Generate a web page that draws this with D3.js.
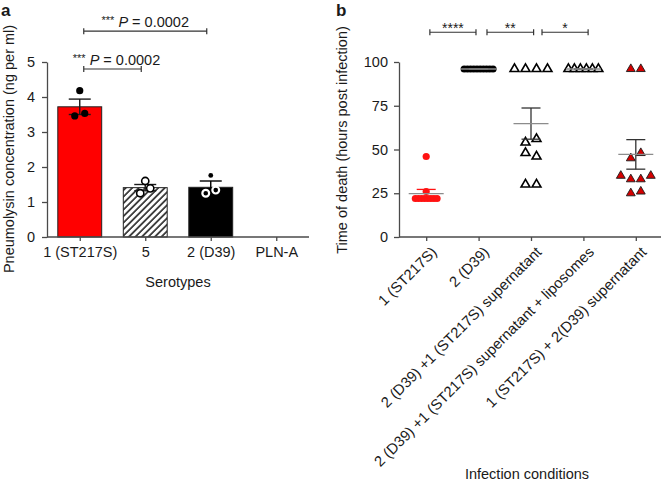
<!DOCTYPE html>
<html><head><meta charset="utf-8">
<script src="https://cdn.jsdelivr.net/npm/d3@7"></script>
<style>
body{margin:0;background:#fff}
svg{display:block}
text{font-family:"Liberation Sans",Arial,Helvetica,sans-serif;fill:#1a1a1a}
</style>
</head><body>
<svg id="chart" width="661" height="482"></svg>
<script>
// ---------- Panel a data ----------
const serotypes = ["1 (ST217S)", "5", "2 (D39)", "PLN-A"];
const plyMean = [3.72, 1.41, 1.42, 0];
const plySem = [0.22, 0.09, 0.18, 0];
const plyPoints = [[4.18, 3.46, 3.53], [1.60, 1.25, 1.39], [1.76, 1.25, 1.34], []];
const plyTicks = [0, 1, 2, 3, 4, 5];
const plySigFrom = [0, 0];
const plySigTo = [2, 1];
const plySigLevel = [5.88, 4.80];
const plySigStars = ["***", "***"];
const plySigText = ["P = 0.0002", "P = 0.0002"];

// ---------- Panel b data ----------
const conditions = [
  "1 (ST217S)",
  "2 (D39)",
  "2 (D39) +1 (ST217S) supernatant",
  "2 (D39) +1 (ST217S) supernatant + liposomes",
  "1 (ST217S) + 2(D39)  supernatant"
];
const deathTimes = [
  [22, 22, 22, 22, 22, 22, 22, 22, 26, 46],
  [96, 96, 96, 96, 96, 96, 96, 96, 96, 96],
  [96, 96, 96, 96, 54, 56, 48, 46, 30, 30],
  [96, 96, 96, 96, 96, 96],
  [96, 96, 45, 48, 35, 33, 33, 35, 25, 26]
];
const deathTicks = [0, 25, 50, 75, 100];
const deathSigFrom = [0.07, 1.16, 2.21];
const deathSigTo = [0.95, 2.05, 3.09];
const deathSigLevel = [117, 117, 117];
const deathSigStars = ["****", "**", "*"];

// ---------- helpers ----------
const svg = d3.select("#chart");
const AX = "#4a4a4a";

function spread(values, thresh, spacing) {
  const idx = values.map((v, i) => i).sort((a, b) => values[a] - values[b]);
  const bins = [];
  idx.forEach(i => {
    const last = bins[bins.length - 1];
    if (last && Math.abs(values[i] - values[last[0]]) <= thresh) last.push(i);
    else bins.push([i]);
  });
  const dx = new Array(values.length).fill(0);
  bins.forEach(b => {
    b.sort((a, c) => a - c);
    b.forEach((i, k) => { dx[i] = (k - (b.length - 1) / 2) * spacing; });
  });
  return values.map((v, i) => ({v, dx: dx[i]}));
}

function styleAxis(g) {
  g.selectAll(".domain").attr("stroke", AX).attr("stroke-width", 1.3);
  g.selectAll(".tick line").attr("stroke", AX).attr("stroke-width", 1.3);
  g.selectAll(".tick text").attr("fill", "#1a1a1a").style("font-size", "14.5px")
    .style("font-family", '"Liberation Sans",Arial,sans-serif');
}

// ---------- Panel a ----------
const xa = d3.scalePoint().domain(serotypes).range([47, 309]).padding(0.5);
const ya = d3.scaleLinear().domain([0, 5]).range([237, 62]);
const barW = xa.step() * 0.67;

const defs = svg.append("defs");
const pat = defs.append("pattern").attr("id", "hatch")
  .attr("patternUnits", "userSpaceOnUse").attr("width", 4.6).attr("height", 4.6)
  .attr("patternTransform", "rotate(45)");
pat.append("rect").attr("width", 4.6).attr("height", 4.6).attr("fill", "#fff");
pat.append("line").attr("x1", 1).attr("x2", 1).attr("y1", 0).attr("y2", 4.6)
  .attr("stroke", "#111").attr("stroke-width", 1.5);

const barFill = ["#ff0000", "url(#hatch)", "#000000", "none"];

const ga = svg.append("g");
ga.selectAll("rect.bar").data(serotypes.filter((d, i) => plyMean[i] > 0)).join("rect")
  .attr("class", "bar")
  .attr("x", d => xa(d) - barW / 2)
  .attr("width", barW)
  .attr("y", d => ya(plyMean[serotypes.indexOf(d)]))
  .attr("height", d => ya(0) - ya(plyMean[serotypes.indexOf(d)]))
  .attr("fill", d => barFill[serotypes.indexOf(d)])
  .attr("stroke", "#222").attr("stroke-width", 1);

// error bars a
serotypes.forEach((s, i) => {
  if (plyMean[i] <= 0) return;
  const cx = xa(s), hi = ya(plyMean[i] + plySem[i]), lo = ya(plyMean[i] - plySem[i]);
  const col = i === 2 ? "#000" : "#1a1a1a";
  ga.append("line").attr("x1", cx).attr("x2", cx).attr("y1", hi).attr("y2", lo)
    .attr("stroke", col).attr("stroke-width", 1.4);
  [hi, lo].forEach(yy => ga.append("line").attr("x1", cx - 11).attr("x2", cx + 11)
    .attr("y1", yy).attr("y2", yy).attr("stroke", col).attr("stroke-width", 1.4));
});

// points a
plyPoints.forEach((pts, i) => {
  const cx = xa(serotypes[i]);
  spread(pts, 0.15, 10).forEach((p, k) => {
    const c = ga.append("circle").attr("cx", cx + p.dx).attr("cy", ya(p.v));
    if (i === 0) c.attr("r", 3.6).attr("fill", "#000");
    else if (i === 1) c.attr("r", 3.6).attr("fill", "#fff").attr("stroke", "#000").attr("stroke-width", 1.6);
    else if (k === 0) c.attr("r", 2.4).attr("fill", "#000");
    else c.attr("r", 3.4).attr("fill", "#000").attr("stroke", "#fff").attr("stroke-width", 2.2);
  });
});

// axes a
const xAxisA = ga.append("g").attr("transform", `translate(0,${ya(0)})`)
  .call(d3.axisBottom(xa).tickSize(4).tickSizeOuter(0).tickPadding(6));
xAxisA.select(".domain").attr("d", `M47,0H309`);
styleAxis(xAxisA);
const yAxisA = ga.append("g").attr("transform", `translate(47,0)`)
  .call(d3.axisLeft(ya).tickValues(plyTicks).tickSize(5).tickSizeOuter(0).tickPadding(7).tickFormat(d3.format("d")));
styleAxis(yAxisA);

ga.append("text").attr("x", 178).attr("y", 287).attr("text-anchor", "middle")
  .style("font-size", "14.5px").text("Serotypes");
ga.append("text").attr("transform", "translate(13.5,149) rotate(-90)").attr("text-anchor", "middle")
  .style("font-size", "14.5px").text("Pneumolysin concentration (ng per ml)");
ga.append("text").attr("x", 1).attr("y", 16).style("font-size", "17px").style("font-weight", "bold").text("a");

// significance a
plySigFrom.forEach((f, i) => {
  const x1 = xa(serotypes[f]) + 4, x2 = xa(serotypes[plySigTo[i]]) - 4, yy = ya(plySigLevel[i]);
  ga.append("path").attr("d", `M${x1},${yy - 3}V${yy + 3}M${x1},${yy}H${x2}M${x2},${yy - 3}V${yy + 3}`)
    .attr("stroke", "#333").attr("stroke-width", 1.2).attr("fill", "none");
  const t = ga.append("text").attr("x", (x1 + x2) / 2 + (i === 1 ? 4 : 0)).attr("y", yy - 4.5)
    .attr("text-anchor", "middle").style("font-size", "14.5px");
  t.append("tspan").style("font-size", "11px").attr("dy", -3).text(plySigStars[i]);
  t.append("tspan").attr("dy", 3).text(" ");
  t.append("tspan").style("font-style", "italic").text(plySigText[i].split(" ")[0]);
  t.append("tspan").text(" " + plySigText[i].split(" ").slice(1).join(" "));
});

// ---------- Panel b ----------
const xb = d3.scalePoint().domain(conditions).range([400, 662]).padding(0.5);
const yb = d3.scaleLinear().domain([0, 100]).range([237, 62]);
const ib = d3.scaleLinear().domain([0, 1]).range([xb(conditions[0]), xb(conditions[1])]);
const gb = svg.append("g");

const spacingB = [3.1, 3.2, 11, 6, 10];
const tri = d3.symbol().type(d3.symbolTriangle).size(34);
deathTimes.forEach((vals, i) => {
  const cx = xb(conditions[i]);
  const pts = spread(vals, 3.5, spacingB[i]);
  pts.forEach(p => {
    const px = cx + p.dx, py = yb(p.v);
    if (i === 0) gb.append("circle").attr("cx", px).attr("cy", py).attr("r", 3.6).attr("fill", "#ff1212");
    else if (i === 1) gb.append("circle").attr("cx", px).attr("cy", py).attr("r", 3.6).attr("fill", "#000");
    else if (i === 4) gb.append("path").attr("d", tri).attr("transform", `translate(${px},${py})`)
      .attr("fill", "#d40000").attr("stroke", "#1a1a1a").attr("stroke-width", 0.9);
    else gb.append("path").attr("d", tri).attr("transform", `translate(${px},${py})`)
      .attr("fill", "#fff").attr("stroke", "#000").attr("stroke-width", 1.6);
  });
  const m = d3.mean(vals), se = d3.deviation(vals) / Math.sqrt(vals.length);
  const ecol = i === 0 ? "#ff1212" : "#333";
  gb.append("line").attr("x1", cx).attr("x2", cx).attr("y1", yb(m + se)).attr("y2", yb(m - se))
    .attr("stroke", ecol).attr("stroke-width", 1.3);
  [m + se, m - se].forEach(v => gb.append("line").attr("x1", cx - 9.5).attr("x2", cx + 9.5)
    .attr("y1", yb(v)).attr("y2", yb(v)).attr("stroke", ecol).attr("stroke-width", 1.3));
  gb.append("line").attr("x1", cx - 17.5).attr("x2", cx + 17.5).attr("y1", yb(m)).attr("y2", yb(m))
    .attr("stroke", "#8c8c8c").attr("stroke-width", 1.3);
});

const xAxisB = gb.append("g").attr("transform", `translate(0,${yb(0)})`)
  .call(d3.axisBottom(xb).tickSize(4).tickSizeOuter(0).tickFormat(""));
xAxisB.select(".domain").attr("d", `M399,0H662`);
styleAxis(xAxisB);
xAxisB.selectAll(".tick").append("text")
  .attr("transform", "translate(11,16) rotate(-45)")
  .attr("text-anchor", "end")
  .style("font-size", "14.8px").attr("fill", "#1a1a1a")
  .text(d => d);

const yAxisB = gb.append("g").attr("transform", `translate(399,0)`)
  .call(d3.axisLeft(yb).tickValues(deathTicks).tickSize(5).tickSizeOuter(0).tickPadding(6));
styleAxis(yAxisB);

gb.append("text").attr("x", 527).attr("y", 479).attr("text-anchor", "middle")
  .style("font-size", "14.5px").text("Infection conditions");
gb.append("text").attr("transform", "translate(347,140) rotate(-90)").attr("text-anchor", "middle")
  .style("font-size", "14.5px").text("Time of death (hours post infection)");
gb.append("text").attr("x", 336).attr("y", 16).style("font-size", "17px").style("font-weight", "bold").text("b");

deathSigFrom.forEach((f, i) => {
  const x1 = ib(f), x2 = ib(deathSigTo[i]), yy = yb(deathSigLevel[i]);
  gb.append("path").attr("d", `M${x1},${yy - 3}V${yy + 3}M${x1},${yy}H${x2}M${x2},${yy - 3}V${yy + 3}`)
    .attr("stroke", "#333").attr("stroke-width", 1.2).attr("fill", "none");
  gb.append("text").attr("x", (x1 + x2) / 2).attr("y", yy + 1).attr("text-anchor", "middle")
    .style("font-size", "14px").text(deathSigStars[i]);
});
</script>
</body></html>
